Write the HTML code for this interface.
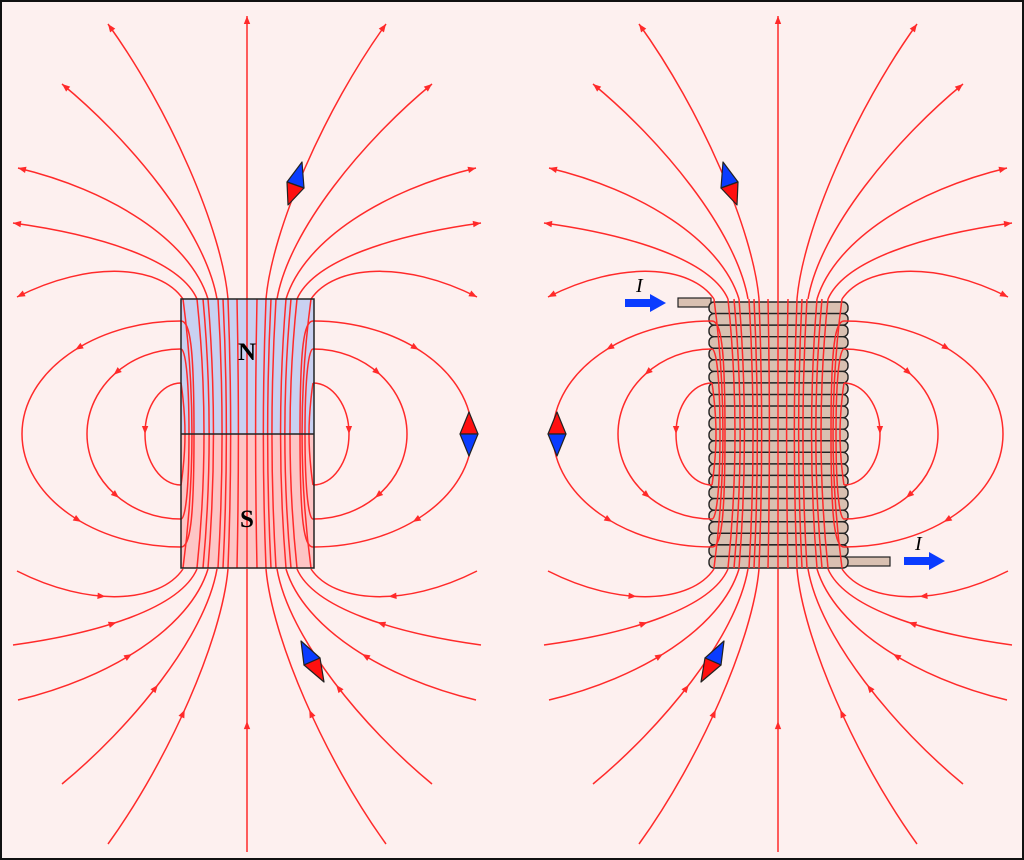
<!DOCTYPE html>
<html><head><meta charset="utf-8"><style>
html,body{margin:0;padding:0;background:#fdf0ef}
svg{display:block}
</style></head><body>
<svg id="s" width="1024" height="860" viewBox="0 0 1024 860" xmlns="http://www.w3.org/2000/svg">
<rect x="1" y="1" width="1022" height="858" fill="#fdf0ef" stroke="#111" stroke-width="2"/>
<rect x="181" y="299" width="133" height="135" fill="#c9d1f1"/>
<rect x="181" y="434" width="133" height="134" fill="#fdc5c5"/>
<rect x="678" y="298" width="33" height="9" fill="#d9c0b1" stroke="#222" stroke-width="1.2"/>
<rect x="846" y="557" width="44" height="9" fill="#d9c0b1" stroke="#222" stroke-width="1.2"/>
<g id="coil"></g>
<g id="field" fill="none" stroke="#ff2a2a" stroke-width="1.5"></g>
<rect x="181" y="299" width="133" height="269" fill="none" stroke="#222" stroke-width="1.5"/>
<line x1="181" y1="434" x2="314" y2="434" stroke="#222" stroke-width="1.5"/>
<g id="arrows" fill="#ff2a2a"></g>
<g stroke="#222" stroke-width="1.2" stroke-linejoin="round">
<polygon points="302,162 287,182 304,188" fill="#0a3cff"/><polygon points="287,182 304,188 288,205" fill="#ff1010"/>
<polygon points="301,641 320,658 304,665" fill="#0a3cff"/><polygon points="304,665 320,658 324,682" fill="#ff1010"/>
<polygon points="469,412 460,434 478,434" fill="#ff1010"/><polygon points="460,434 478,434 469,456" fill="#0a3cff"/>
<polygon points="557,412 548,434 566,434" fill="#ff1010"/><polygon points="548,434 566,434 557,456" fill="#0a3cff"/>
<polygon points="723,162 738,182 721,188" fill="#0a3cff"/><polygon points="738,182 721,188 737,205" fill="#ff1010"/>
<polygon points="724,641 705,658 721,665" fill="#0a3cff"/><polygon points="721,665 705,658 701,682" fill="#ff1010"/>
</g>
<polygon points="625,299 650,299 650,294 666,303 650,312 650,307 625,307" fill="#0a3cff"/>
<polygon points="904,557 929,557 929,552 945,561 929,570 929,565 904,565" fill="#0a3cff"/>
<text x="636" y="292" font-family="Liberation Serif,serif" font-style="italic" font-size="20">I</text>
<text x="915" y="550" font-family="Liberation Serif,serif" font-style="italic" font-size="20">I</text>
<text x="247" y="360" text-anchor="middle" font-family="Liberation Serif,serif" font-weight="bold" font-size="25">N</text>
<text x="247" y="527" text-anchor="middle" font-family="Liberation Serif,serif" font-weight="bold" font-size="25">S</text>
</svg>
<script>
(function(){
var NS="http://www.w3.org/2000/svg";
var coil=document.getElementById('coil');
var h=266/23;
for(var i=0;i<23;i++){var r=document.createElementNS(NS,'rect');
r.setAttribute('x',709);r.setAttribute('y',(302+i*h).toFixed(2));r.setAttribute('width',139);r.setAttribute('height',h.toFixed(2));
r.setAttribute('rx',5);r.setAttribute('fill','#d9c0b1');r.setAttribute('stroke','#222');r.setAttribute('stroke-width','1.4');coil.appendChild(r);}
var field=document.getElementById('field'),arrows=document.getElementById('arrows');
var tops=[
["M228,299 C222,230 170,110 108,24",1,0.5],
["M217,299 C205,230 130,140 62,84",1,0.5],
["M208,299 C190,240 110,190 18,168",1,0.5],
["M197,299 C180,260 100,235 13,223",1,0.5],
["M183,299 C160,265 90,260 17,297",1,0.5]
];
var center=["M247,299 L247,16",1,0.55];
function loop(yt,xe){var dy=434-yt;var x1=xe+(181-xe)*0.45;return "M181,"+yt+" C"+x1+","+yt+" "+xe+","+(434-dy*0.55)+" "+xe+",434";}
var loops=[[loop(321,22),0.5,0.5],[loop(349,87),0.5,0.5],[loop(383,145),1,-1]];
function mk(d,tf,frac,rev){
var g=document.createElementNS(NS,'g');g.setAttribute('transform',tf);field.appendChild(g);
var p=document.createElementNS(NS,'path');p.setAttribute('d',d);g.appendChild(p);
if(frac<0)return;
var L=p.getTotalLength();var s=Math.min(L*frac,L-0.5);var a=p.getPointAtLength(Math.max(s-1.5,0)),b=p.getPointAtLength(Math.min(s+1.5,L));
var pt=p.getPointAtLength(frac>=1?L:s);
var ang=Math.atan2(b.y-a.y,b.x-a.x)*180/Math.PI;if(rev)ang+=180;
var ag=document.createElementNS(NS,'g');ag.setAttribute('transform',tf);arrows.appendChild(ag);
var t=document.createElementNS(NS,'polygon');
var off=frac>=1?0:3.5;
t.setAttribute('points',off+",0 "+(off-8)+",-3.2 "+(off-8)+",3.2");
t.setAttribute('transform','translate('+pt.x+','+pt.y+') rotate('+ang+')');ag.appendChild(t);
}
[0,531].forEach(function(dx){
var I="translate("+dx+",0)",H="translate("+dx+",0) matrix(-1 0 0 1 494 0)",V="translate("+dx+",0) matrix(1 0 0 -1 0 868)",HV="translate("+dx+",0) matrix(-1 0 0 -1 494 868)";
tops.forEach(function(l){mk(l[0],I,l[1],false);mk(l[0],H,l[1],false);mk(l[0],V,l[2],true);mk(l[0],HV,l[2],true);});
mk(center[0],I,center[1],false);mk(center[0],V,center[2],true);
loops.forEach(function(l){mk(l[0],I,l[1],false);mk(l[0],H,l[1],false);mk(l[0],V,l[2],true);mk(l[0],HV,l[2],true);});
// inside loop continuations
[[321,194],[349,189],[383,185]].forEach(function(q){
var yt=q[0],xd=q[1],yb=868-yt;
var d="M181,"+yt+" C"+(xd-4)+","+yt+" "+xd+","+(yt+25)+" "+xd+",434 S"+(xd-4)+","+yb+" 181,"+yb;
mk(d,I,-1,false);mk(d,H,-1,false);});
var xs=[183,197,208,218,228,247,266,276,286,297,311,237,257,203,291,223,271];
xs.forEach(function(x){var cx=247+(x-247)*0.72;
var p=document.createElementNS(NS,'path');p.setAttribute('d',"M"+(x+dx)+",299 Q"+(cx+dx)+",434 "+(x+dx)+",568");field.appendChild(p);});
});
})();
</script>
</body></html>
